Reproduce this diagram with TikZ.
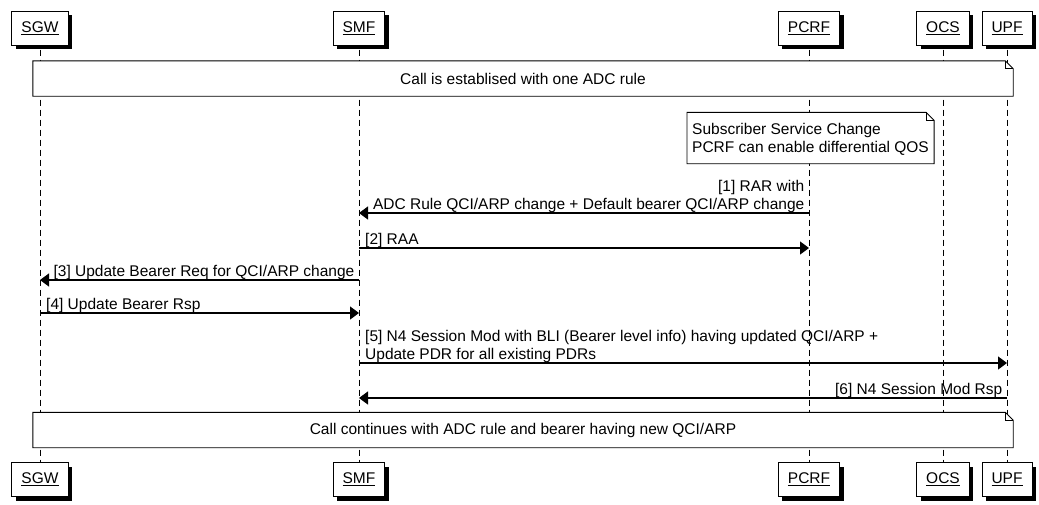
\documentclass[tikz,border=0pt]{standalone}
\usepackage{fontspec}
\setmainfont{Liberation Sans}
\usetikzlibrary{arrows.meta,shadows}
\newcommand\lastdp{\rule[-3.5pt]{0pt}{10pt}}
\begin{document}
\begin{tikzpicture}[x=1pt,y=-1pt,
  every node/.style={font=\fontsize{15.5}{18}\selectfont},
  actor/.style={draw, line width=1pt, fill=white, minimum height=34pt,
    inner xsep=9.5pt, inner ysep=0pt,
    drop shadow={shadow xshift=4pt, shadow yshift=-4pt, fill=black, opacity=1}},
  lifeline/.style={line width=0.9pt, dash pattern=on 6pt off 4pt},
  msg/.style={line width=1.3pt, -{Triangle[length=9pt,width=13pt]}},
  lblL/.style={anchor=south west, inner xsep=0pt, inner ysep=0pt, align=left},
  lblR/.style={anchor=south east, inner xsep=0pt, inner ysep=0pt, align=right},
  notebody/.style={minimum height=35pt, inner sep=0pt},
  noteline/.style={draw, line width=0.9pt, fill=white}
]
\useasboundingbox (0,0) rectangle (1039,504);

% actors (top)
\node[actor] (sgw)  at (40,28)   {\underline{SGW}};
\node[actor] (smf)  at (359,28)  {\underline{SMF}};
\node[actor] (pcrf) at (809,28)  {\underline{PCRF}};
\node[actor] (ocs)  at (943,28)  {\underline{OCS}};
\node[actor] (upf)  at (1007,28) {\underline{UPF}};
% actors (bottom)
\node[actor] (sgwb)  at (40,479.5)   {\underline{SGW}};
\node[actor] (smfb)  at (359,479.5)  {\underline{SMF}};
\node[actor] (pcrfb) at (809,479.5)  {\underline{PCRF}};
\node[actor] (ocsb)  at (943,479.5)  {\underline{OCS}};
\node[actor] (upfb)  at (1007,479.5) {\underline{UPF}};

% lifelines
\draw[lifeline] ([yshift=-4pt]sgw.south)  -- (sgwb.north);
\draw[lifeline] ([yshift=-4pt]smf.south)  -- (smfb.north);
\draw[lifeline] ([yshift=-4pt]pcrf.south) -- (pcrfb.north);
\draw[lifeline] ([yshift=-4pt]ocs.south)  -- (ocsb.north);
\draw[lifeline] ([yshift=-4pt]upf.south)  -- (upfb.north);

% note 1
\node[notebody, minimum width=980pt] (n1) at (523,78.5) {};
\draw[noteline] (n1.north west) -- ([xshift=-8pt]n1.north east) -- ([yshift=-8pt]n1.north east)
  -- (n1.south east) -- (n1.south west) -- cycle;
\draw[line width=0.9pt] ([xshift=-8pt]n1.north east) |- ([yshift=-8pt]n1.north east);
\node at (n1.center) {Call is establised with one ADC rule};

% note 2
\node[notebody, minimum height=51pt, inner xsep=5pt, anchor=west, align=left] (n2t) at (687,138)
  {\phantom{Subscriber Service Change}\\\phantom{PCRF can enable differential QOS}};
\draw[noteline] (n2t.north west) -- ([xshift=-8pt]n2t.north east) -- ([yshift=-8pt]n2t.north east)
  -- (n2t.south east) -- (n2t.south west) -- cycle;
\draw[line width=0.9pt] ([xshift=-8pt]n2t.north east) |- ([yshift=-8pt]n2t.north east);
\node[notebody, minimum height=51pt, inner xsep=5pt, anchor=west, align=left] (n2) at (687,139)
  {Subscriber Service Change\\PCRF can enable differential QOS};

% note 3
\node[notebody, minimum width=980pt] (n3) at (523,430) {};
\draw[noteline] (n3.north west) -- ([xshift=-8pt]n3.north east) -- ([yshift=-8pt]n3.north east)
  -- (n3.south east) -- (n3.south west) -- cycle;
\draw[line width=0.9pt] ([xshift=-8pt]n3.north east) |- ([yshift=-8pt]n3.north east);
\node at (n3.center) {Call continues with ADC rule and bearer having new QCI/ARP};

% message levels
\coordinate (m1) at (0,213);
\coordinate (m2) at (0,248);
\coordinate (m3) at (0,280);
\coordinate (m4) at (0,313);
\coordinate (m5) at (0,363);
\coordinate (m6) at (0,398);

% [1]
\draw[msg] (pcrf |- m1) -- (smf |- m1);
\node[lblR, xshift=-4.5pt] at (pcrf |- m1)
  {[1] RAR with\\ADC Rule QCI/ARP change + Default bearer QCI/ARP change\lastdp};
% [2]
\draw[msg] (smf |- m2) -- (pcrf |- m2);
\node[lblL, xshift=6pt] at (smf |- m2) {[2] RAA\lastdp};
% [3]
\draw[msg] (smf |- m3) -- (sgw |- m3);
\node[lblR, xshift=-4.5pt] at (smf |- m3) {[3] Update Bearer Req for QCI/ARP change\lastdp};
% [4]
\draw[msg] (sgw |- m4) -- (smf |- m4);
\node[lblL, xshift=6pt] at (sgw |- m4) {[4] Update Bearer Rsp\lastdp};
% [5]
\draw[msg] (smf |- m5) -- (upf |- m5);
\node[lblL, xshift=6pt] at (smf |- m5)
  {[5] N4 Session Mod with BLI (Bearer level info) having updated QCI/ARP +\\Update PDR for all existing PDRs\lastdp};
% [6]
\draw[msg] (upf |- m6) -- (smf |- m6);
\node[lblR, xshift=-4.5pt] at (upf |- m6) {[6] N4 Session Mod Rsp\lastdp};
\end{tikzpicture}
\end{document}
